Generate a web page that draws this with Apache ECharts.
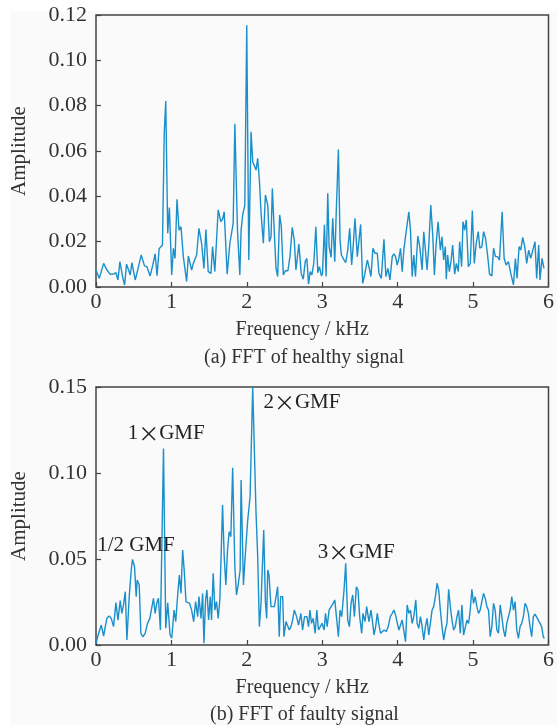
<!DOCTYPE html>
<html>
<head>
<meta charset="utf-8">
<script src="https://cdn.jsdelivr.net/npm/echarts@6/dist/echarts.min.js"></script>
<style>
html,body{margin:0;padding:0;background:#ffffff;}
#chart{width:557px;height:725px;}
</style>
</head>
<body>
<div id="chart"></div>
<script>
// (a) healthy signal
var freqA = [0.000,0.044,0.101,0.145,0.189,0.233,0.264,0.291,0.317,0.352,0.379,0.405,0.432,0.454,0.476,0.520,0.555,0.599,0.643,0.674,0.718,0.753,0.784,0.810,0.837,0.863,0.881,0.905,0.925,0.951,0.973,1.004,1.026,1.048,1.074,1.101,1.127,1.158,1.180,1.202,1.224,1.246,1.268,1.290,1.334,1.365,1.400,1.431,1.457,1.488,1.524,1.546,1.576,1.620,1.656,1.678,1.700,1.739,1.775,1.819,1.841,1.876,1.907,1.924,1.946,1.973,1.999,2.026,2.056,2.078,2.100,2.122,2.144,2.166,2.189,2.219,2.246,2.277,2.299,2.321,2.338,2.365,2.387,2.409,2.435,2.457,2.484,2.510,2.545,2.572,2.602,2.629,2.651,2.690,2.721,2.748,2.774,2.796,2.818,2.840,2.862,2.888,2.915,2.941,2.963,2.989,3.003,3.029,3.051,3.073,3.091,3.117,3.139,3.166,3.183,3.214,3.236,3.254,3.285,3.311,3.338,3.364,3.390,3.413,3.434,3.465,3.487,3.509,3.536,3.562,3.598,3.619,3.646,3.672,3.699,3.730,3.752,3.783,3.818,3.844,3.871,3.897,3.928,3.950,3.972,3.994,4.016,4.038,4.060,4.082,4.104,4.148,4.170,4.192,4.214,4.236,4.267,4.293,4.324,4.346,4.368,4.390,4.412,4.439,4.465,4.487,4.509,4.536,4.566,4.588,4.610,4.632,4.645,4.663,4.685,4.707,4.729,4.756,4.778,4.804,4.822,4.848,4.866,4.888,4.910,4.937,4.963,4.990,5.016,5.042,5.068,5.090,5.117,5.139,5.165,5.192,5.218,5.249,5.271,5.297,5.324,5.350,5.385,5.412,5.438,5.469,5.500,5.535,5.561,5.583,5.610,5.632,5.658,5.685,5.711,5.737,5.764,5.790,5.821,5.843,5.870,5.887,5.914,5.940];
var ampA = [0.0075,0.0038,0.0104,0.0075,0.0056,0.0057,0.0063,0.0031,0.0112,0.0046,0.0009,0.0101,0.0075,0.0053,0.0107,0.0031,0.0078,0.0141,0.0093,0.0090,0.0049,0.0097,0.0146,0.0050,0.0169,0.0163,0.0185,0.0680,0.0820,0.0237,0.0351,0.0053,0.0171,0.0126,0.0387,0.0251,0.0266,0.0134,0.0126,0.0024,0.0137,0.0141,0.0075,0.0104,0.0141,0.0259,0.0193,0.0082,0.0254,0.0068,0.0060,0.0178,0.0068,0.0340,0.0288,0.0299,0.0332,0.0057,0.0193,0.0281,0.0720,0.0251,0.0053,0.0251,0.0320,0.0360,0.1155,0.0119,0.0685,0.0553,0.0557,0.0516,0.0568,0.0472,0.0325,0.0193,0.0406,0.0362,0.0200,0.0222,0.0435,0.0237,0.0082,0.0046,0.0318,0.0266,0.0053,0.0072,0.0072,0.0134,0.0263,0.0207,0.0075,0.0190,0.0060,0.0034,0.0112,0.0126,0.0013,0.0068,0.0053,0.0104,0.0266,0.0063,0.0090,0.0049,0.0060,0.0274,0.0046,0.0413,0.0178,0.0131,0.0303,0.0112,0.0303,0.0607,0.0207,0.0141,0.0122,0.0107,0.0163,0.0259,0.0097,0.0193,0.0303,0.0134,0.0134,0.0276,0.0016,0.0053,0.0119,0.0090,0.0046,0.0171,0.0149,0.0149,0.0060,0.0038,0.0210,0.0046,0.0082,0.0031,0.0134,0.0146,0.0134,0.0097,0.0126,0.0171,0.0068,0.0163,0.0222,0.0332,0.0251,0.0046,0.0141,0.0046,0.0225,0.0178,0.0075,0.0244,0.0163,0.0075,0.0178,0.0362,0.0229,0.0053,0.0185,0.0288,0.0163,0.0222,0.0119,0.0178,0.0034,0.0141,0.0068,0.0112,0.0185,0.0057,0.0104,0.0068,0.0200,0.0090,0.0288,0.0251,0.0296,0.0090,0.0104,0.0337,0.0104,0.0193,0.0244,0.0171,0.0178,0.0244,0.0215,0.0141,0.0057,0.0049,0.0171,0.0134,0.0134,0.0119,0.0332,0.0126,0.0097,0.0112,0.0060,0.0009,0.0126,0.0038,0.0178,0.0163,0.0219,0.0178,0.0104,0.0163,0.0126,0.0134,0.0200,0.0038,0.0185,0.0031,0.0126,0.0082];

// (b) faulty signal
var freqB = [0.000,0.035,0.070,0.101,0.123,0.145,0.176,0.202,0.233,0.264,0.291,0.321,0.343,0.365,0.388,0.410,0.440,0.467,0.484,0.511,0.533,0.546,0.573,0.595,0.621,0.652,0.683,0.714,0.740,0.762,0.784,0.810,0.828,0.854,0.872,0.895,0.925,0.951,0.982,1.004,1.035,1.057,1.083,1.105,1.127,1.149,1.171,1.193,1.215,1.242,1.268,1.295,1.321,1.348,1.365,1.392,1.414,1.431,1.453,1.471,1.493,1.515,1.532,1.554,1.576,1.598,1.620,1.642,1.678,1.700,1.722,1.744,1.766,1.788,1.812,1.841,1.863,1.885,1.911,1.924,1.955,1.981,2.012,2.043,2.078,2.122,2.144,2.166,2.188,2.211,2.224,2.246,2.263,2.277,2.294,2.320,2.343,2.365,2.387,2.409,2.430,2.448,2.475,2.492,2.519,2.541,2.563,2.585,2.607,2.629,2.660,2.686,2.717,2.739,2.765,2.796,2.818,2.836,2.858,2.880,2.906,2.928,2.950,2.976,2.998,3.025,3.043,3.065,3.091,3.117,3.144,3.166,3.188,3.214,3.236,3.258,3.289,3.311,3.338,3.360,3.382,3.404,3.426,3.452,3.474,3.496,3.523,3.540,3.567,3.589,3.619,3.646,3.664,3.686,3.708,3.730,3.752,3.774,3.796,3.822,3.849,3.875,3.902,3.928,3.950,3.972,3.994,4.016,4.038,4.060,4.082,4.104,4.126,4.148,4.170,4.192,4.214,4.240,4.258,4.280,4.302,4.324,4.346,4.368,4.390,4.412,4.434,4.456,4.478,4.500,4.522,4.544,4.566,4.588,4.610,4.632,4.654,4.676,4.698,4.720,4.742,4.764,4.786,4.808,4.830,4.852,4.874,4.896,4.918,4.940,4.962,4.984,5.006,5.028,5.050,5.072,5.094,5.116,5.139,5.161,5.183,5.205,5.227,5.249,5.271,5.293,5.315,5.337,5.359,5.381,5.403,5.425,5.447,5.469,5.491,5.513,5.535,5.557,5.579,5.601,5.623,5.645,5.667,5.689,5.711,5.733,5.755,5.777,5.799,5.821,5.843,5.865,5.887,5.909,5.931,5.945];
var ampB = [0.0010,0.0068,0.0116,0.0052,0.0107,0.0155,0.0169,0.0155,0.0107,0.0246,0.0145,0.0258,0.0184,0.0233,0.0310,0.0029,0.0277,0.0436,0.0498,0.0455,0.0281,0.0378,0.0349,0.0068,0.0048,0.0068,0.0126,0.0155,0.0165,0.0271,0.0184,0.0252,0.0271,0.0087,0.0078,0.1143,0.0097,0.0246,0.0058,0.0039,0.0203,0.0136,0.0291,0.0407,0.0300,0.0552,0.0426,0.0252,0.0242,0.0242,0.0203,0.0136,0.0252,0.0165,0.0281,0.0155,0.0300,0.0010,0.0262,0.0320,0.0145,0.0281,0.0145,0.0417,0.0203,0.0252,0.0155,0.0262,0.0814,0.0514,0.0349,0.0552,0.0659,0.0630,0.1030,0.0455,0.0291,0.0349,0.0436,0.0959,0.0349,0.0533,0.0727,0.0862,0.1500,0.0766,0.0514,0.0107,0.0242,0.0252,0.0669,0.0252,0.0155,0.0436,0.0407,0.0223,0.0233,0.0223,0.0281,0.0339,0.0048,0.0281,0.0281,0.0048,0.0136,0.0126,0.0087,0.0107,0.0145,0.0203,0.0165,0.0116,0.0184,0.0087,0.0165,0.0165,0.0107,0.0203,0.0126,0.0155,0.0068,0.0203,0.0087,0.0097,0.0126,0.0087,0.0184,0.0107,0.0203,0.0223,0.0242,0.0262,0.0165,0.0048,0.0203,0.0165,0.0320,0.0475,0.0145,0.0107,0.0242,0.0291,0.0165,0.0339,0.0320,0.0165,0.0068,0.0184,0.0136,0.0223,0.0136,0.0203,0.0145,0.0058,0.0107,0.0184,0.0116,0.0068,0.0058,0.0087,0.0078,0.0107,0.0165,0.0184,0.0203,0.0174,0.0165,0.0087,0.0078,0.0145,0.0136,0.0019,0.0233,0.0184,0.0203,0.0126,0.0165,0.0262,0.0126,0.0097,0.0165,0.0107,0.0029,0.0107,0.0155,0.0058,0.0126,0.0203,0.0223,0.0281,0.0359,0.0320,0.0203,0.0107,0.0029,0.0087,0.0126,0.0324,0.0223,0.0145,0.0087,0.0107,0.0165,0.0203,0.0068,0.0233,0.0058,0.0048,0.0145,0.0126,0.0203,0.0324,0.0242,0.0281,0.0223,0.0184,0.0203,0.0252,0.0300,0.0271,0.0223,0.0203,0.0048,0.0107,0.0242,0.0203,0.0087,0.0068,0.0233,0.0165,0.0087,0.0048,0.0126,0.0165,0.0203,0.0281,0.0203,0.0252,0.0087,0.0039,0.0107,0.0126,0.0165,0.0242,0.0223,0.0184,0.0107,0.0048,0.0165,0.0180,0.0184,0.0145,0.0136,0.0107,0.0048,0.0039];

var xTicks = [0,1,2,3,4,5,6];
var captionA = '(a) FFT of healthy signal';
var captionB = '(b) FFT of faulty signal';
var xName = 'Frequency / kHz';
var yName = 'Amplitude';
var peakLabels = [
  {name:'1/2 GMF', coord:[0.53,0.058]},
  {name:'1\u00d7GMF', coord:[0.93,0.123]},
  {name:'2\u00d7GMF', coord:[2.73,0.141]},
  {name:'3\u00d7GMF', coord:[3.45,0.054]}
];

var FONT = 'Liberation Serif';
var TXT = '#333333';
var LINE = '#1b8fca';
var BORDER = '#444444';

function pairs(f, a){ return f.map(function(v,i){ return [v, a[i]]; }); }

function xAxis(idx){
  return {
    gridIndex: idx, type:'value', min:0, max:6, interval:1,
    name: xName, nameLocation:'middle', nameGap:33,
    nameTextStyle:{fontFamily:FONT, fontSize:20, color:TXT, padding:[0,40,0,0]},
    axisLine:{show:false},
    axisTick:{show:true, inside:true, length:5, lineStyle:{color:BORDER, width:1.2}},
    axisLabel:{fontFamily:FONT, fontSize:22, color:TXT, margin:4,
      formatter:function(v){ return xTicks.indexOf(v) >= 0 ? String(v) : ''; }},
    splitLine:{show:false}
  };
}
function yAxis(idx, max, interval){
  return {
    gridIndex: idx, type:'value', min:0, max:max, interval:interval,
    name: yName, nameLocation:'middle', nameGap:66, nameRotate:90,
    nameTextStyle:{fontFamily:FONT, fontSize:21, color:TXT},
    axisLine:{show:false},
    axisTick:{show:true, inside:true, length:5, lineStyle:{color:BORDER, width:1.2}},
    axisLabel:{fontFamily:FONT, fontSize:22, color:TXT, margin:9,
      formatter:function(v){ return v.toFixed(2); }},
    splitLine:{show:false}
  };
}

var chart = echarts.init(document.getElementById('chart'), null, {renderer:'canvas'});
chart.setOption({
  animation:false,
  backgroundColor:'#ffffff',
  graphic:[
    {type:'rect', left:10, top:11, shape:{width:547, height:714}, style:{fill:'#fafafa'}, z:-10, silent:true},
    {type:'text', left:204, top:348, style:{text:captionA, font:'20px "Liberation Serif"', fill:TXT}},
    {type:'text', left:210, top:705, style:{text:captionB, font:'20px "Liberation Serif"', fill:TXT}}
  ],
  grid:[
    {left:96, top:15, width:454, height:272, show:true, borderColor:BORDER, borderWidth:1.5, backgroundColor:'transparent'},
    {left:96, top:387, width:454, height:258, show:true, borderColor:BORDER, borderWidth:1.5, backgroundColor:'transparent'}
  ],
  xAxis:[xAxis(0), xAxis(1)],
  yAxis:[yAxis(0, 0.12, 0.02), yAxis(1, 0.15, 0.05)],
  series:[
    {type:'line', xAxisIndex:0, yAxisIndex:0, data:pairs(freqA, ampA), showSymbol:false,
     lineStyle:{color:LINE, width:1.4}, itemStyle:{color:LINE}},
    {type:'line', xAxisIndex:1, yAxisIndex:1, data:pairs(freqB, ampB), showSymbol:false,
     lineStyle:{color:LINE, width:1.4}, itemStyle:{color:LINE},
     markPoint:{symbol:'circle', symbolSize:0, silent:true,
       label:{show:true, position:'inside', fontFamily:FONT, fontSize:21, color:'#222222',
         formatter:function(p){ return p.name.replace('\u00d7', '{x|\u00d7}'); },
         rich:{x:{fontFamily:'Noto Sans CJK SC', fontSize:21, color:'#222222'}}},
       data:peakLabels.map(function(p){ return {name:p.name, coord:p.coord}; })}}
  ]
});
</script>
</body>
</html>
